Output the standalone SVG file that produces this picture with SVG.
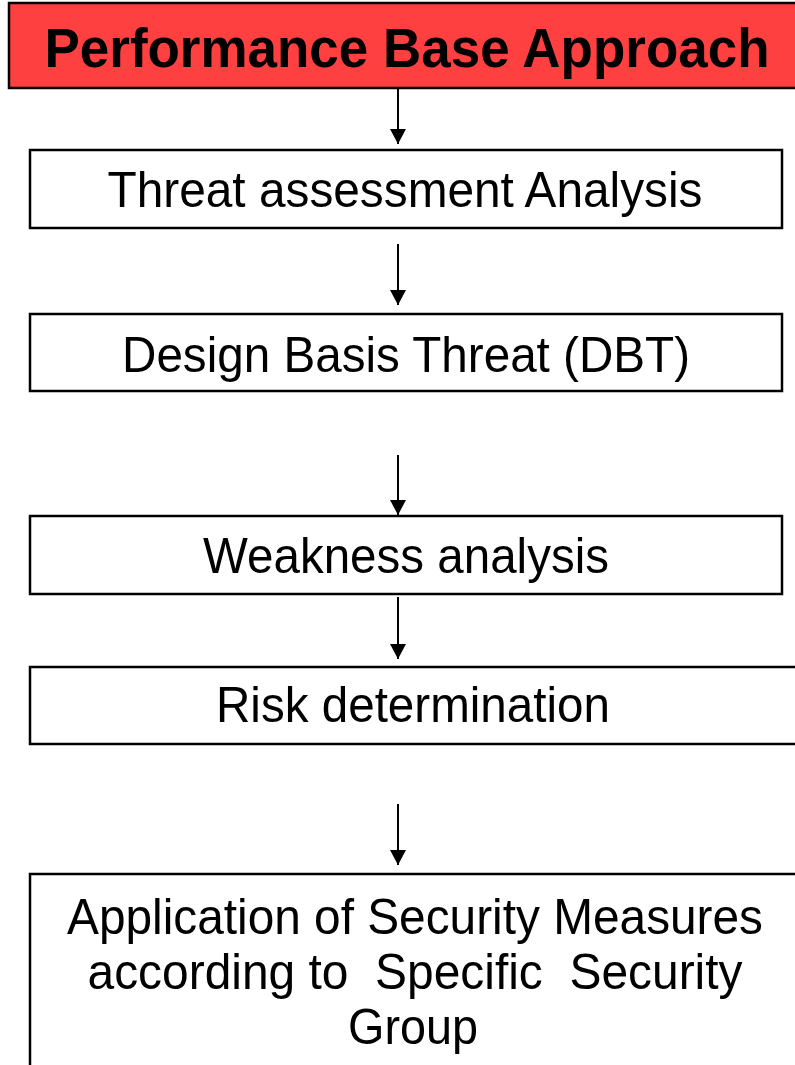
<svg xmlns="http://www.w3.org/2000/svg" width="795" height="1065" viewBox="0 0 795 1065">
  <style>
    .box { fill: #ffffff; stroke: #000000; stroke-width: 2.5; }
    .title-box { fill: #ff4040; stroke: #000000; stroke-width: 2.5; }
    .label { font-family: "Liberation Sans", Arial, sans-serif; font-size: 50px; fill: #000000; text-anchor: middle; }
    .title { font-family: "Liberation Sans", Arial, sans-serif; font-size: 55px; font-weight: bold; fill: #000000; text-anchor: middle; }
    .flow { stroke: #000000; stroke-width: 2; fill: none; marker-end: url(#arrow); }
  </style>
  <defs>
    <!-- filled triangular head, drawn along +x so orient="auto" follows the line -->
    <marker id="arrow" viewBox="0 0 15 16" refX="15" refY="8" markerWidth="15" markerHeight="16" markerUnits="userSpaceOnUse" orient="auto">
      <path d="M0,0 L15,8 L0,16 Z" fill="#000000"/>
    </marker>
  </defs>
  <rect width="795" height="1065" fill="#ffffff"/>

  <g id="connectors">
    <line class="flow" x1="398" y1="88" x2="398" y2="144"/>
    <line class="flow" x1="398" y1="244" x2="398" y2="305"/>
    <line class="flow" x1="398" y1="455" x2="398" y2="515"/>
    <line class="flow" x1="398" y1="597" x2="398" y2="659"/>
    <line class="flow" x1="398" y1="804" x2="398" y2="865"/>
  </g>

  <g id="node-performance">
    <rect class="title-box" x="9" y="3" width="800" height="85"/>
    <text class="title" x="407" y="67" textLength="725" lengthAdjust="spacingAndGlyphs">Performance Base Approach</text>
  </g>

  <g id="node-threat">
    <rect class="box" x="30" y="150" width="752" height="78"/>
    <text class="label" x="405" y="207" textLength="595" lengthAdjust="spacingAndGlyphs">Threat assessment Analysis</text>
  </g>

  <g id="node-dbt">
    <rect class="box" x="30" y="314" width="752" height="77"/>
    <text class="label" x="406" y="372" textLength="568" lengthAdjust="spacingAndGlyphs">Design Basis Threat (DBT)</text>
  </g>

  <g id="node-weakness">
    <rect class="box" x="30" y="516" width="752" height="78"/>
    <text class="label" x="406" y="573" textLength="406" lengthAdjust="spacingAndGlyphs">Weakness analysis</text>
  </g>

  <g id="node-risk">
    <rect class="box" x="30" y="667" width="780" height="77"/>
    <text class="label" x="413" y="722" textLength="394" lengthAdjust="spacingAndGlyphs">Risk determination</text>
  </g>

  <g id="node-application">
    <rect class="box" x="30" y="874" width="780" height="200"/>
    <text class="label" x="415" y="934" textLength="696" lengthAdjust="spacingAndGlyphs">Application of Security Measures</text>
    <text class="label" x="415" y="989" textLength="655" lengthAdjust="spacingAndGlyphs" xml:space="preserve">according to  Specific  Security</text>
    <text class="label" x="413" y="1044" textLength="130" lengthAdjust="spacingAndGlyphs">Group</text>
  </g>
</svg>
